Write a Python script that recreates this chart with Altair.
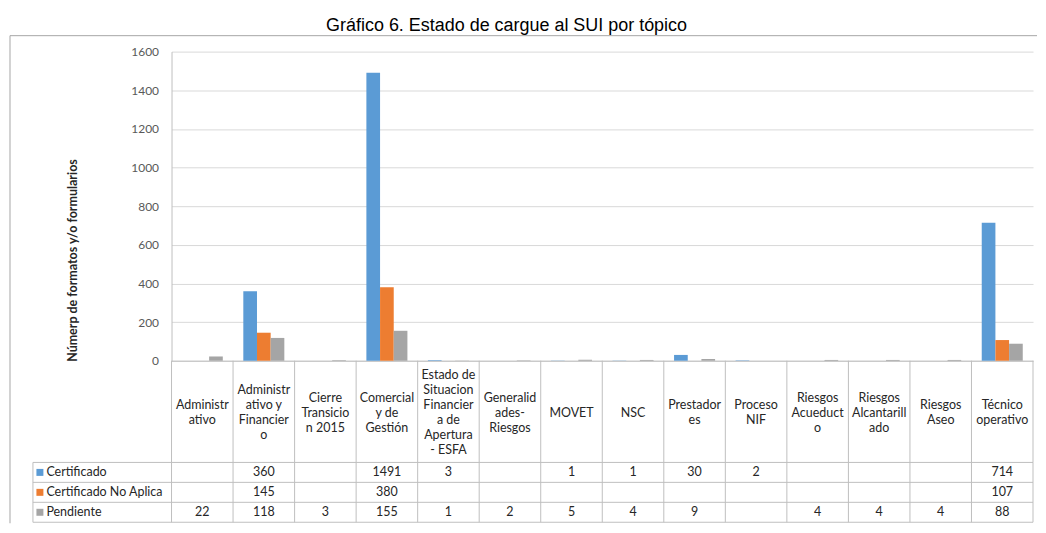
import altair as alt
import pandas as pd

categories = ["Administrativo", "Administrativo y Financiero", "Cierre Transicion 2015",
              "Comercial y de Gestión", "Estado de Situacion Financiera de Apertura - ESFA",
              "Generalidades-Riesgos", "MOVET", "NSC", "Prestadores", "Proceso NIF",
              "Riesgos Acueducto", "Riesgos Alcantarillado", "Riesgos Aseo", "Técnico operativo"]
header_labels = ["Administr\nativo", "Administr\nativo y\nFinancier\no", "Cierre\nTransicio\nn 2015",
                 "Comercial\ny de\nGestión", "Estado de\nSituacion\nFinancier\na de\nApertura\n- ESFA",
                 "Generalid\nades-\nRiesgos", "MOVET", "NSC", "Prestador\nes", "Proceso\nNIF",
                 "Riesgos\nAcueduct\no", "Riesgos\nAlcantarill\nado", "Riesgos\nAseo", "Técnico\noperativo"]
series = ["Certificado", "Certificado No Aplica", "Pendiente"]
certificado = [None, 360, None, 1491, 3, None, 1, 1, 30, 2, None, None, None, 714]
no_aplica = [None, 145, None, 380, None, None, None, None, None, None, None, None, None, 107]
pendiente = [22, 118, 3, 155, 1, 2, 5, 4, 9, None, 4, 4, 4, 88]
colors = ["#5B9BD5", "#ED7D31", "#A5A5A5"]
y_ticks = [0, 200, 400, 600, 800, 1000, 1200, 1400, 1600]

rows = []
for s, vals in zip(series, [certificado, no_aplica, pendiente]):
    for c, v in zip(categories, vals):
        if v is not None:
            rows.append({"cat": c, "serie": s, "valor": v})
df = pd.DataFrame(rows)
hdr = pd.DataFrame({"cat": categories, "label": header_labels})
ser_df = pd.DataFrame({"serie": series})

W = 864
H_PLOT = 310
H_HDR = 102
H_ROW = 60
LEG = 139
LH = 15
FONT = "Lato"
GRID = "#d9d9d9"
LINE = "#bfbfbf"

xscale = alt.Scale(domain=categories, paddingInner=0, paddingOuter=0)
rowscale = alt.Scale(domain=series, paddingInner=0, paddingOuter=0)
colscale = alt.Scale(domain=series, range=colors)

yaxis = alt.Axis(values=y_ticks, format="d", ticks=False, domain=True, domainColor=LINE, gridColor=GRID,
                 labelFont=FONT, labelFontSize=12, labelColor="#595959", labelPadding=13,
                 title="Númerp de formatos y/o formularios", titleFont=FONT, titleFontSize=12.5,
                 titleFontWeight="bold", titleColor="#262626", titleX=-99, titleY=209,
                 titleAlign="center", titleBaseline="middle")
xaxis_bar = alt.Axis(labels=False, ticks=False, title=None, grid=False, domainColor=LINE)

bars = alt.Chart(df).mark_bar().encode(
    x=alt.X("cat:N", scale=xscale, sort=categories, axis=xaxis_bar),
    xOffset=alt.XOffset("serie:N", scale=alt.Scale(domain=series, paddingOuter=0.75, paddingInner=0)),
    y=alt.Y("valor:Q", scale=alt.Scale(domain=[0, 1600], nice=False), axis=yaxis),
    color=alt.Color("serie:N", scale=colscale, legend=None),
)
one = pd.DataFrame({"k": [0]})
frame_top = alt.Chart(one).mark_rule(color="#a6a6a6", strokeWidth=1).encode(
    x=alt.value(-162), x2=alt.value(W + 4), y=alt.value(-16))
frame_left = alt.Chart(one).mark_rule(color="#a6a6a6", strokeWidth=1).encode(
    x=alt.value(-162), y=alt.value(-16), y2=alt.value(H_PLOT + H_HDR + H_ROW + 1))
top = alt.layer(bars, frame_top, frame_left).properties(width=W, height=H_PLOT)

# header row of the table
hx = alt.X("cat:N", scale=xscale, sort=categories, axis=None, bandPosition=0)
h_lines = alt.Chart(hdr).mark_rule(color=LINE).encode(x=hx)
h_last = alt.Chart(hdr).transform_filter(alt.datum.cat == categories[-1]).mark_rule(color=LINE).encode(
    x=alt.X("cat:N", scale=xscale, sort=categories, axis=None, bandPosition=1))
h_text = alt.Chart(hdr).transform_calculate(
    ypos=f"{H_HDR / 2 + 1} - (split(datum.label, '\\n').length - 1) * {LH / 2}"
).mark_text(lineBreak="\n", font=FONT, fontSize=12.5, lineHeight=LH,
            color="#262626", baseline="middle").encode(
    x=alt.X("cat:N", scale=xscale, sort=categories, axis=None),
    y=alt.Y("ypos:Q", scale=alt.Scale(domain=[0, H_HDR], range=[0, H_HDR]), axis=None),
    text="label:N")
header = alt.layer(h_lines, h_last, h_text).properties(width=W, height=H_HDR)

# data rows of the table
raxis = alt.Axis(title=None, ticks=False, domain=False, grid=False, labelAlign="left",
                 labelPadding=126, labelFont=FONT, labelFontSize=12.5, labelColor="#262626")
rx_none = alt.X("cat:N", scale=xscale, sort=categories, axis=None)
cells = alt.Chart(df).mark_text(font=FONT, fontSize=12.5, color="#262626").encode(
    x=rx_none, y=alt.Y("serie:N", scale=rowscale, axis=raxis), text="valor:Q")
r_hlines = alt.Chart(ser_df).mark_rule(color=LINE).encode(
    y=alt.Y("serie:N", scale=rowscale, axis=raxis, bandPosition=0), x=alt.value(-LEG), x2=alt.value(W))
r_hbottom = alt.Chart(ser_df).transform_filter(alt.datum.serie == series[-1]).mark_rule(color=LINE).encode(
    y=alt.Y("serie:N", scale=rowscale, axis=raxis, bandPosition=1), x=alt.value(-LEG), x2=alt.value(W))
r_vlines = alt.Chart(hdr).mark_rule(color=LINE).encode(x=hx)
r_vlast = alt.Chart(hdr).transform_filter(alt.datum.cat == categories[-1]).mark_rule(color=LINE).encode(
    x=alt.X("cat:N", scale=xscale, sort=categories, axis=None, bandPosition=1))
r_vleft = alt.Chart(one).mark_rule(color=LINE).encode(x=alt.value(-LEG))
keys = alt.Chart(ser_df).mark_point(shape="square", filled=True, opacity=1, size=49).encode(
    x=alt.value(-132), y=alt.Y("serie:N", scale=rowscale, axis=raxis),
    color=alt.Color("serie:N", scale=colscale, legend=None))
table = alt.layer(r_hlines, r_hbottom, r_vlines, r_vlast, r_vleft, cells, keys).properties(width=W, height=H_ROW)

chart = alt.vconcat(top, header, table, spacing=0, bounds="flush").properties(
    title=alt.TitleParams("Gráfico 6. Estado de cargue al SUI por tópico", font="Liberation Sans",
                          fontSize=18, fontWeight="normal", color="#000000", anchor="middle",
                          offset=0, dx=-17),
    padding={"left": 1, "top": 8, "right": 0, "bottom": 0},
    background="white",
).configure_view(stroke=None)

chart.save("out.html", embed_options={"renderer": "svg", "actions": False})
